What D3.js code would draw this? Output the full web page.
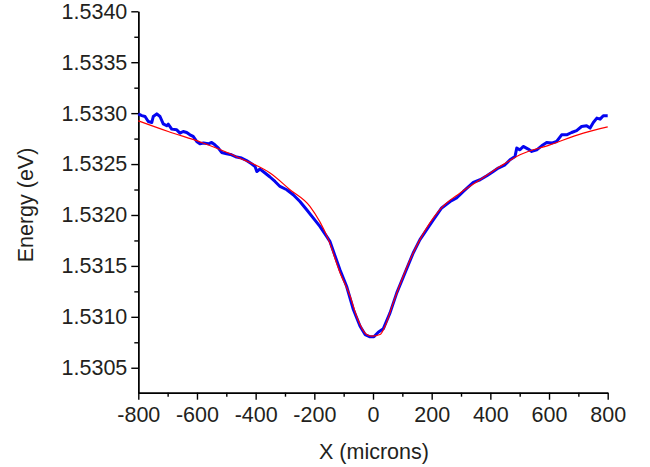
<!DOCTYPE html>
<html>
<head>
<meta charset="utf-8">
<script src="https://cdn.jsdelivr.net/npm/d3@7"></script>
<style>
body { margin: 0; background: #fff; }
text { font-family: "Liberation Sans", Arial, sans-serif; fill: #231f20; }
</style>
</head>
<body>
<svg id="chart" width="650" height="467"></svg>
<script>
// Measured data (blue) : position in microns, energy in eV
var dataX = [-800,-788,-777,-766,-754,-749,-737,-726,-715,-703,-698,-686,-669,-658,-647,-635,-624,-613,-601,-590,
	-578,-561,-550,-539,-527,-516,-499,-482,-465,-448,-431,-414,-402,-396,-385,-368,-351,-334,-317,-294,
	-272,-249,-226,-204,-181,-158,-147,-113,-90,-67,-44,-27,-10,3,18,35,58,81,109,137,
	160,183,206,234,263,285,308,342,365,388,410,427,450,467,484,490,501,512,529,541,
	558,575,592,609,626,643,660,677,694,711,728,740,751,763,774,785,800];
var dataE = [1.532993,1.532976,1.532967,1.532918,1.532908,1.532967,1.532993,1.532967,1.532895,1.532876,1.532892,1.532843,1.532836,1.532804,1.532820,1.532810,1.532787,1.532771,1.532722,1.532699,
	1.532706,1.532699,1.532712,1.532689,1.532657,1.532614,1.532601,1.532591,1.532569,1.532559,1.532535,1.532503,1.532476,1.532427,1.532451,1.532412,1.532373,1.532329,1.532280,1.532248,
	1.532199,1.532133,1.532052,1.531971,1.531888,1.531790,1.531741,1.531464,1.531300,1.531072,1.530908,1.530826,1.530804,1.530804,1.530849,1.530882,1.531039,1.531235,1.531431,1.531627,
	1.531758,1.531856,1.531954,1.532069,1.532133,1.532167,1.532231,1.532320,1.532346,1.532385,1.532427,1.532461,1.532493,1.532542,1.532574,1.532657,1.532640,1.532673,1.532647,1.532624,
	1.532640,1.532679,1.532712,1.532706,1.532722,1.532787,1.532787,1.532810,1.532829,1.532869,1.532876,1.532853,1.532908,1.532951,1.532941,1.532974,1.532974];

// Fit curve (red)
var fitX = [-800,-698,-584,-487,-448,-402,-351,-283,-215,-152,-112,-78,-56,-22,-4,24,41,69,103,137,160,228,297,365,433,501,603,717,800];
var fitE = [1.532925,1.532820,1.532712,1.532601,1.532549,1.532493,1.532412,1.532248,1.532084,1.531758,1.531431,1.531202,1.531006,1.530826,1.530810,1.530826,1.530908,1.531137,1.531398,1.531627,1.531758,1.532052,1.532216,1.532346,1.532476,1.532591,1.532689,1.532804,1.532866];

// Tick values
var xMajor = [-800,-600,-400,-200,0,200,400,600,800];
var xMinor = [-700,-500,-300,-100,100,300,500,700];
var yMajor = [1.5305,1.5310,1.5315,1.5320,1.5325,1.5330,1.5335,1.5340];
var yMinor = [1.53075,1.53125,1.53175,1.53225,1.53275,1.53325,1.53375];

var LEFT = 138.3, RIGHT = 607.7, TOP = 11.3, BOTTOM = 392.7;

var svg = d3.select("#chart");

var x = d3.scaleLinear().domain([-800,800]).range([LEFT,RIGHT]);
var y = d3.scaleLinear().domain([1.530255,1.5340]).range([BOTTOM,TOP]);

// Axes
function styleAxis(g)
{
	g.selectAll("path,line")
		.attr("stroke","#000")
		.attr("stroke-width",1.4);
	g.selectAll("text")
		.attr("font-size","21.5px")
		.attr("fill","#231f20");
}

svg.append("g")
	.attr("transform","translate(0," + BOTTOM + ")")
	.call(d3.axisBottom(x).tickValues(xMinor).tickSize(4).tickSizeOuter(0).tickFormat(""))
	.call(styleAxis);
svg.append("g")
	.attr("transform","translate(0," + BOTTOM + ")")
	.call(d3.axisBottom(x).tickValues(xMajor).tickSize(7).tickPadding(7).tickSizeOuter(0).tickFormat(function(d) { return String(d); }))
	.call(styleAxis);

svg.append("g")
	.attr("transform","translate(" + LEFT + ",0)")
	.call(d3.axisLeft(y).tickValues(yMinor).tickSize(4).tickSizeOuter(0).tickFormat(""))
	.call(styleAxis);
svg.append("g")
	.attr("transform","translate(" + LEFT + ",0)")
	.call(d3.axisLeft(y).tickValues(yMajor).tickSize(7).tickPadding(4).tickSizeOuter(0).tickFormat(d3.format(".4f")))
	.call(styleAxis);

// Axis titles
svg.append("text")
	.attr("x",374)
	.attr("y",458.5)
	.attr("text-anchor","middle")
	.attr("font-size","21.5px")
	.text("X (microns)");
svg.append("text")
	.attr("transform","translate(32.5,205) rotate(-90)")
	.attr("text-anchor","middle")
	.attr("font-size","21.5px")
	.text("Energy (eV)");

// Lines
var dataLine = d3.line()
	.x(function(d) { return x(d[0]); })
	.y(function(d) { return y(d[1]); });
var fitLine = d3.line()
	.x(function(d) { return x(d[0]); })
	.y(function(d) { return y(d[1]); })
	.curve(d3.curveMonotoneX);

svg.append("path")
	.datum(d3.zip(dataX,dataE))
	.attr("d",dataLine)
	.attr("fill","none")
	.attr("stroke","#0505f0")
	.attr("stroke-width",3)
	.attr("stroke-linejoin","round");

svg.append("path")
	.datum(d3.zip(fitX,fitE))
	.attr("d",fitLine)
	.attr("fill","none")
	.attr("stroke","#ff0000")
	.attr("stroke-width",1.2);
</script>
</body>
</html>
